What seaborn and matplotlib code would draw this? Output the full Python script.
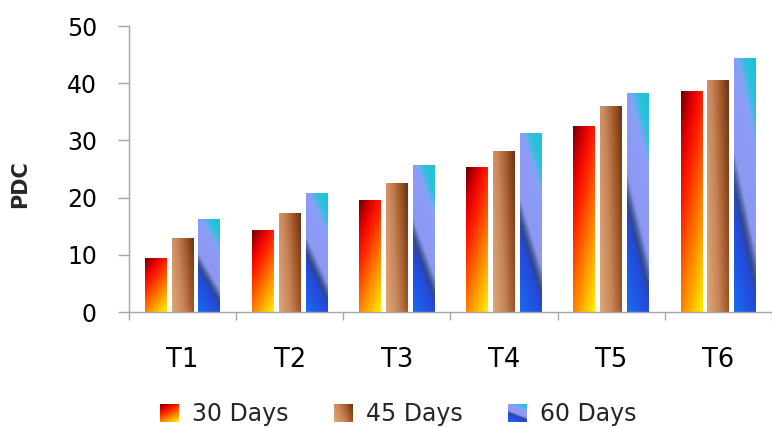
import numpy as np
import pandas as pd
import seaborn as sns
import matplotlib
matplotlib.use("Agg")
import matplotlib.pyplot as plt
from matplotlib.colors import to_rgb
from matplotlib.patches import Patch
from matplotlib.legend_handler import HandlerBase
from matplotlib.image import BboxImage
from matplotlib.transforms import Bbox, TransformedBbox
from matplotlib.ticker import FixedLocator

# Data
treatments = ["T1", "T2", "T3", "T4", "T5", "T6"]
periods = ["30 Days", "45 Days", "60 Days"]
days_30 = [9.3, 14.3, 19.5, 25.2, 32.4, 38.5]
days_45 = [12.8, 17.2, 22.4, 28.1, 36.0, 40.5]
days_60 = [16.2, 20.8, 25.6, 31.3, 38.2, 44.4]
y_ticks = [0, 10, 20, 30, 40, 50]

df = pd.DataFrame({
    "Treatment": treatments * 3,
    "Period": [periods[0]] * 6 + [periods[1]] * 6 + [periods[2]] * 6,
    "PDC": days_30 + days_45 + days_60,
})

# Gradient fills -------------------------------------------------------
def ramp(stops, t):
    pos = [p for p, _ in stops]
    cols = np.array([to_rgb(c) for _, c in stops])
    out = np.empty(t.shape + (3,))
    for k in range(3):
        out[..., k] = np.interp(t, pos, cols[:, k])
    return out

def fill_30(u, v):
    t = 0.35 * u + 0.65 * (1 - v)
    return ramp([(0, "#6B0000"), (0.2, "#E00000"), (0.35, "#FF1A00"),
                 (0.65, "#FF8000"), (1, "#FFF200")], t)

def fill_45(u, v):
    t = 0.75 * u + 0.25 * v
    return ramp([(0, "#DDA77A"), (0.4, "#C8875A"), (0.7, "#A55A2C"),
                 (1, "#6B3311")], t)

def fill_60(u, v):
    s = (1 - v) - 0.4 * u
    return ramp([(-0.4, "#18C4D4"), (-0.18, "#30C0DC"), (-0.08, "#7AA8F0"),
                 (0.0, "#8C9CF8"), (0.36, "#8C98F0"), (0.44, "#5060A8"),
                 (0.5, "#2C4890"), (0.58, "#2548D8"), (0.8, "#1E5AE8"),
                 (1.0, "#1A6CEE")], s)

fills = [fill_30, fill_45, fill_60]

def gradient_image(fn, n=240, m=60):
    u, v = np.meshgrid(np.linspace(0, 1, m), np.linspace(0, 1, n))
    return fn(u, v)

class GradientHandler(HandlerBase):
    def __init__(self, fn):
        super().__init__()
        self.fn = fn

    def create_artists(self, legend, orig_handle, xdescent, ydescent,
                       width, height, fontsize, trans):
        bb = TransformedBbox(Bbox.from_bounds(-xdescent, -ydescent, width, height), trans)
        img = BboxImage(bb, origin="lower", interpolation="bilinear")
        img.set_data(gradient_image(self.fn, 40, 40))
        return [img]

# Figure ----------------------------------------------------------------
sns.set_style("white")
plt.rcParams["font.family"] = ["DejaVu Sans"]

fig = plt.figure(figsize=(7.72, 4.28), dpi=100)
ax = fig.add_axes([0.167, 0.271, 0.833, 0.668])

sns.barplot(data=df, x="Treatment", y="PDC", hue="Period", order=treatments,
            hue_order=periods, palette=["#FF2000", "#B06030", "#4060E0"],
            width=0.75, gap=0.18, legend=False, errorbar=None, ax=ax)

for fn, container in zip(fills, ax.containers):
    for bar in container:
        x0, w, h = bar.get_x(), bar.get_width(), bar.get_height()
        ax.imshow(gradient_image(fn), extent=[x0, x0 + w, 0, h], origin="lower",
                  aspect="auto", interpolation="bilinear", zorder=2)
        bar.set_facecolor("none")
        bar.set_edgecolor("none")

ax.set_xlim(-0.5, 5.5)
ax.set_ylim(0, 50)
ax.set_yticks(y_ticks)
ax.set_xticks(range(len(treatments)))
ax.set_xticklabels(treatments)
ax.xaxis.set_minor_locator(FixedLocator(np.arange(-0.5, 6, 1.0)))

axis_grey = "#A6A6A6"
for side in ["top", "right"]:
    ax.spines[side].set_visible(False)
for side in ["left", "bottom"]:
    ax.spines[side].set_color(axis_grey)
    ax.spines[side].set_linewidth(1.0)

ax.tick_params(axis="y", which="major", length=8, width=1, color=axis_grey,
               direction="out", left=True, labelsize=17, pad=15, labelcolor="black")
ax.tick_params(axis="x", which="major", length=0, labelsize=18.5, pad=25,
               labelcolor="black")
ax.tick_params(axis="x", which="minor", length=6, width=1, color=axis_grey,
               direction="out", bottom=True)

ax.set_xlabel("")
ax.set_ylabel("PDC", fontsize=15, fontweight="bold")
ax.yaxis.set_label_coords(-0.154, 0.448)

handles = [Patch(label=p) for p in periods]
leg = fig.legend(handles=handles, labels=periods, loc="center",
                 bbox_to_anchor=(0.516, 0.033), ncol=3, frameon=False,
                 fontsize=17, handlelength=0.78, handleheight=0.78,
                 handletextpad=0.6, columnspacing=1.9,
                 handler_map={h: GradientHandler(fn) for h, fn in zip(handles, fills)})

fig.savefig("out.png", dpi=100, facecolor="white")
